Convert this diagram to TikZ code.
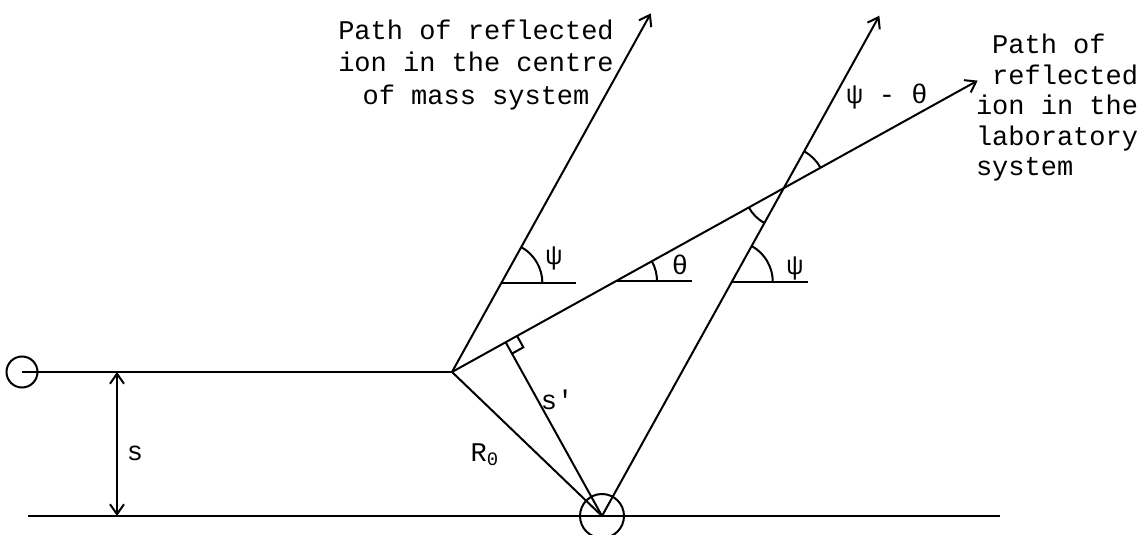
\documentclass[tikz,border=0pt]{standalone}
\usepackage{fontspec}
\setmainfont{Liberation Mono}
\usetikzlibrary{arrows.meta,calc,angles}

\begin{document}
\begin{tikzpicture}[x=0.5pt,y=0.5pt,line width=1pt,>={Straight Barb[length=5pt,width=7pt]},
  lbl/.style={inner sep=0pt,font=\fontsize{13.5pt}{16.25pt}\selectfont},
  ang/.style={draw,angle radius=20.5pt}]
  \useasboundingbox (0,0) rectangle (1145,535);
  \coordinate (C1) at (22,163);
  \coordinate (P) at (452,163);
  \coordinate (O) at (602,19);
  \coordinate (baseL) at (28,19);
  \coordinate (baseR) at (1000,19);
  \coordinate (sTop) at (117,163);
  \coordinate (sBot) at (117,19);
  \coordinate (cmtip) at ($(P)+(61:410)$);
  \coordinate (otip) at ($(O)+(61:572)$);
  \coordinate (labtip) at ($(P)+(29:601)$);
  \coordinate (X) at (intersection of P--labtip and O--otip);
  \coordinate (F) at ($(P)!(O)!(labtip)$);
  \coordinate (A1) at ($(P)!0.2483!(cmtip)$);
  \coordinate (A1r) at ($(A1)+(75,0)$);
  \coordinate (T1) at ($(P)!0.312!(labtip)$);
  \coordinate (T1r) at ($(T1)+(76,0)$);
  \coordinate (B1) at ($(O)!0.468!(otip)$);
  \coordinate (B1r) at ($(B1)+(76,0)$);

  \draw (C1) circle (7.75pt);
  \draw (O) circle (11pt);
  \draw (C1) -- (P);
  \draw (baseL) -- (baseR);
  \draw[<->] (sTop) -- (sBot);
  \draw[->] (P) -- (cmtip);
  \draw[->] (P) -- (labtip);
  \draw[->] (O) -- (otip);
  \draw (P) -- (O);
  \draw (F) -- (O);
  \draw ($(F)+(29:13)$) -- ++(-61:13) -- ($(F)+(-61:13)$);

  \draw (A1) -- (A1r);
  \draw (T1) -- (T1r);
  \draw (B1) -- (B1r);
  \pic[ang] {angle=A1r--A1--cmtip};
  \pic[ang] {angle=T1r--T1--labtip};
  \pic[ang] {angle=B1r--B1--otip};
  \pic[ang,angle radius=21pt] {angle=labtip--X--otip};
  \pic[ang,angle radius=20pt] {angle=P--X--O};

  \node[lbl] (psiA) at (554,277) {ψ};
  \node[lbl] (thA) at (680,270) {θ};
  \node[lbl] (psiB) at (795,267) {ψ};
  \node[lbl] (psith) at (887,438) {ψ - θ};
  \node[lbl] (sLbl) at (135,82) {s};
  \node[lbl] (spLbl) at (557,135) {s\textquotesingle};
  \node[lbl] (RLbl) at (485,80) {R\textsubscript{0}};
  \node[lbl,align=center] (cmText) at (476,470) {Path of reflected\\ion in the centre\\of mass system};
  \node[lbl,align=left,anchor=west,font=\fontsize{13.5pt}{15.25pt}\selectfont] (labText) at (975,427)
    {\hphantom{P}Path of\\\hphantom{r}reflected\\ion in the\\laboratory\\system};
\end{tikzpicture}
\end{document}
